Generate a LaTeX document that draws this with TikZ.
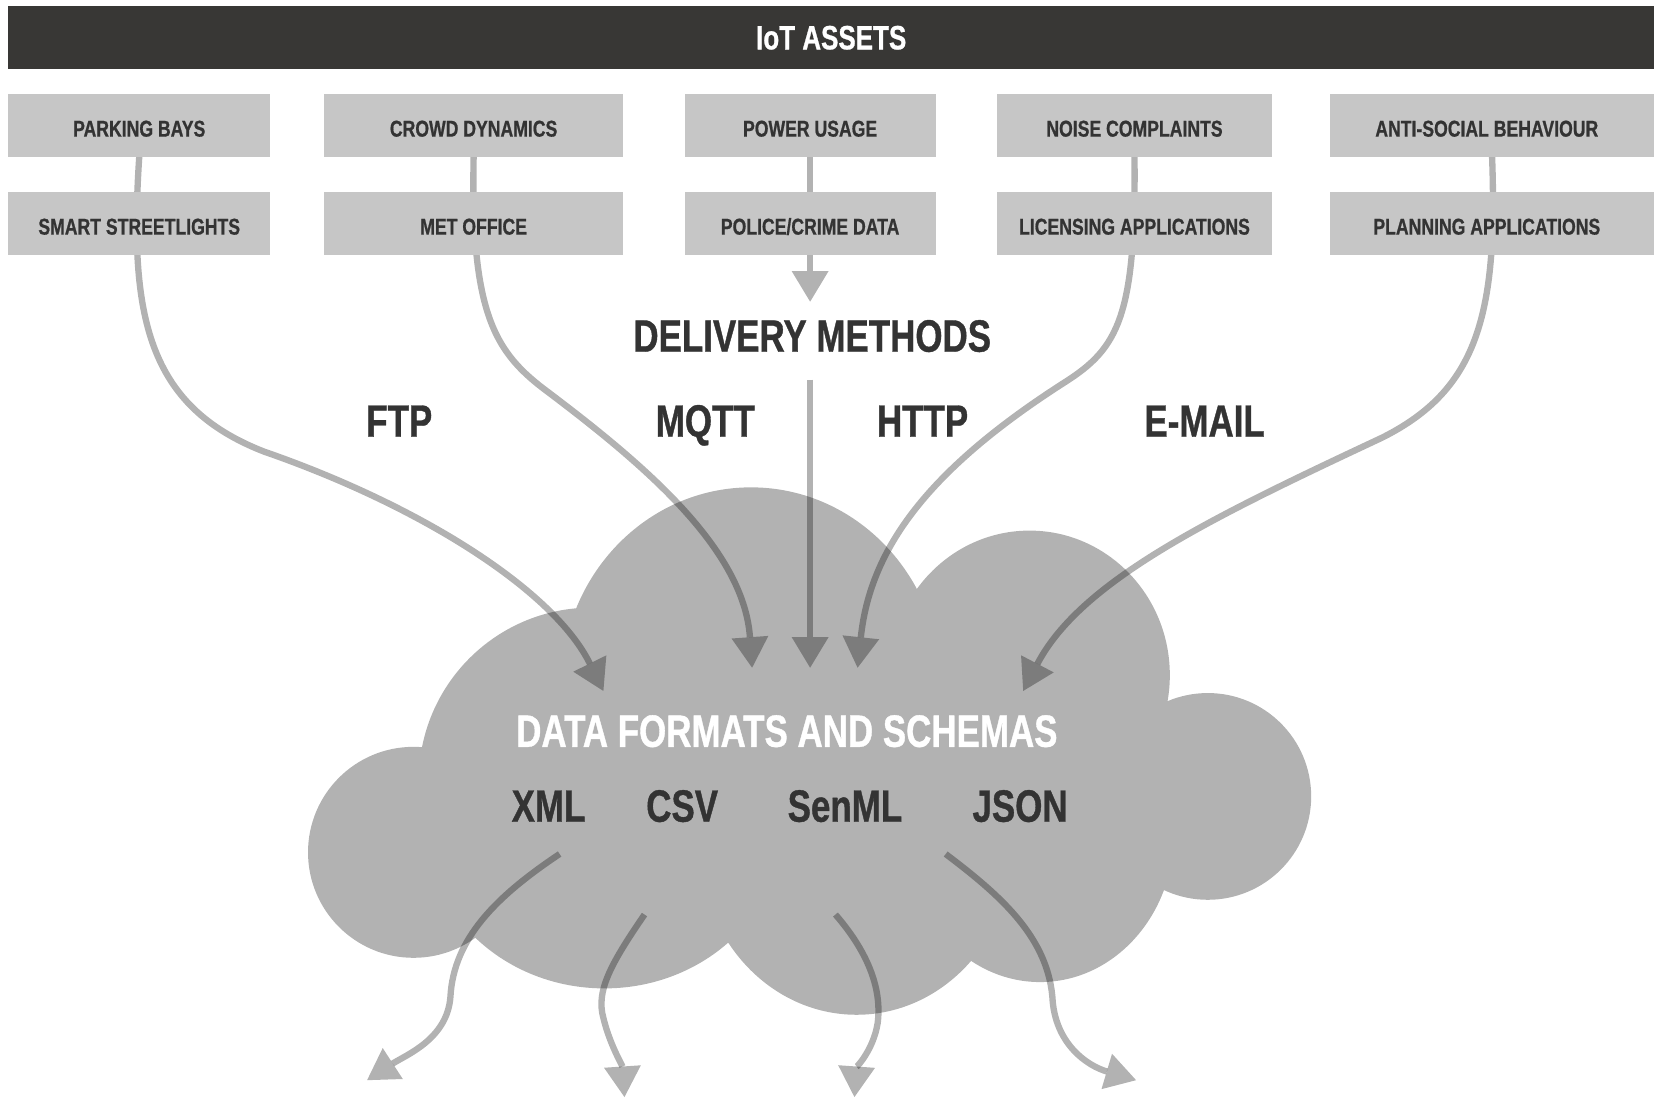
\documentclass[tikz,border=0pt]{standalone}
\usepackage{fontspec}
\setmainfont{Liberation Sans}[FakeStretch=0.77, BoldFeatures={FakeBold=0.8}]
\usetikzlibrary{positioning, arrows.meta}
\definecolor{headgray}{HTML}{383735}
\definecolor{boxgray}{HTML}{C6C6C6}
\definecolor{cloudgray}{HTML}{B2B2B2}
\definecolor{inkgray}{HTML}{333333}
\pgfdeclarelayer{background}
\pgfsetlayers{background,main}
\tikzstyle{header} = [rectangle, fill=headgray, text=white, font=\bfseries\fontsize{32}{32}\selectfont, minimum width=1560pt, minimum height=59.7pt, inner sep=0pt, text height=22.2pt, text depth=0pt]
\tikzstyle{asset} = [rectangle, fill=boxgray, text=inkgray, font=\bfseries\fontsize{21.7}{21.7}\selectfont, minimum height=59pt, inner sep=0pt, text height=21pt, text depth=0pt]
\tikzstyle{method} = [text=inkgray, font=\bfseries\fontsize{43}{43}\selectfont, anchor=base, inner sep=0pt]
\tikzstyle{datafmt} = [method]
\tikzstyle{cloudtitle} = [method, text=white]
\tikzstyle{line} = [draw=black, opacity=.3, line width=6pt, -{Triangle[length=29pt, width=35pt, line width=0pt]}]

\begin{document}
\begin{tikzpicture}[x=1pt, y=-1pt]
    \useasboundingbox (0,0) rectangle (1568,1041);

    \begin{pgfonlayer}{background}
        \fill[cloudgray] (392,808) circle[radius=100pt]
            (561,740) circle[radius=164pt]
            (712,650) ellipse[x radius=180pt, y radius=188pt]
            (976,640) ellipse[x radius=133pt, y radius=137pt]
            (1145,755) circle[radius=98pt]
            (986,790) ellipse[x radius=127pt, y radius=141pt]
            (812,800) ellipse[x radius=149pt, y radius=162pt]
            (573,780) ellipse[x radius=170pt, y radius=157pt];
    \end{pgfonlayer}

    \node[header] (assets) at (788,35.7) {IoT ASSETS};

    \node[asset, minimum width=248pt] (parking) at (132,119) {PARKING BAYS};
    \node[asset, minimum width=284pt] (crowd) at (449,119) {CROWD DYNAMICS};
    \node[asset, minimum width=238pt] (power) at (768,119) {POWER USAGE};
    \node[asset, minimum width=261pt] (noise) at (1075.5,119) {NOISE COMPLAINTS};
    \node[asset, minimum width=307pt] (anti) at (1414.5,119) {\hspace*{-10pt}ANTI-SOCIAL BEHAVIOUR};

    \node[asset, minimum width=248pt, below=33.5pt of parking] (smart) {SMART STREETLIGHTS};
    \node[asset, minimum width=284pt, below=33.5pt of crowd] (met) {MET OFFICE};
    \node[asset, minimum width=238pt, below=33.5pt of power] (police) {POLICE/CRIME DATA};
    \node[asset, minimum width=261pt, below=33.5pt of noise] (licensing) {LICENSING APPLICATIONS};
    \node[asset, minimum width=307pt, below=33.5pt of anti] (planning) {\hspace*{-10pt}PLANNING APPLICATIONS};

    \node[method] (delivery) at (770,333.4) {DELIVERY METHODS};
    \node[method] (ftp) at (378.5,414) {FTP};
    \node[method] (mqtt) at (668.6,414) {MQTT};
    \node[method] (http) at (874.6,414) {HTTP};
    \node[method] (email) at (1142,414) {E-MAIL};

    \node[cloudtitle] (formats) at (746,708) {DATA FORMATS AND SCHEMAS};
    \node[datafmt] (xml) at (520,779) {XML};
    \node[datafmt] (csv) at (646.7,779) {CSV};
    \node[datafmt] (senml) at (801,779) {SenML};
    \node[datafmt] (json) at (967,779) {JSON};

    \coordinate (deliverytip) at (768,286);
    \coordinate (deliverybottom) at (768,360);
    \coordinate (ftpin) at (572,655);
    \coordinate (mqttin) at (713,633);
    \coordinate (deliveryin) at (768,633);
    \coordinate (httpin) at (813,633);
    \coordinate (emailin) at (970,655);
    \coordinate (xmlstart) at (530.5,809.6);
    \coordinate (csvstart) at (611,867);
    \coordinate (senmlstart) at (792,867);
    \coordinate (jsonstart) at (896.5,809.6);
    \coordinate (xmlout) at (348,1024);
    \coordinate (csvout) at (592,1040);
    \coordinate (senmlout) at (810,1040);
    \coordinate (jsonout) at (1077,1024);

    \begin{pgfonlayer}{background}
        \path[line] (parking.south) .. controls (122,300) and (140,385) .. (250,428)
            .. controls (400,480) and (525,560) .. (ftpin);
        \path[line] (crowd.south) .. controls (446,300) and (470,335) .. (520,372)
            .. controls (610,440) and (705,520) .. (mqttin);
        \path[line] (power.south) -- (deliverytip);
        \path[line] (deliverybottom) -- (deliveryin);
        \path[line] (noise.south) .. controls (1077,300) and (1060,330) .. (1010,362)
            .. controls (880,445) and (825,520) .. (httpin);
        \path[line] (anti.south) .. controls (1420,300) and (1400,370) .. (1310,415)
            .. controls (1150,490) and (1025,550) .. (emailin);

        \path[line] (xmlstart) .. controls (470,850) and (430,890) .. (427,945)
            .. controls (424,985) and (385,1000) .. (xmlout);
        \path[line] (csvstart) .. controls (578,915) and (565,940) .. (572,965)
            .. controls (578,990) and (590,1010) .. (csvout);
        \path[line] (senmlstart) .. controls (825,905) and (836,940) .. (832,970)
            .. controls (828,995) and (812,1012) .. (senmlout);
        \path[line] (jsonstart) .. controls (950,850) and (995,890) .. (998,950)
            .. controls (1002,990) and (1030,1010) .. (jsonout);
    \end{pgfonlayer}
\end{tikzpicture}
\end{document}
